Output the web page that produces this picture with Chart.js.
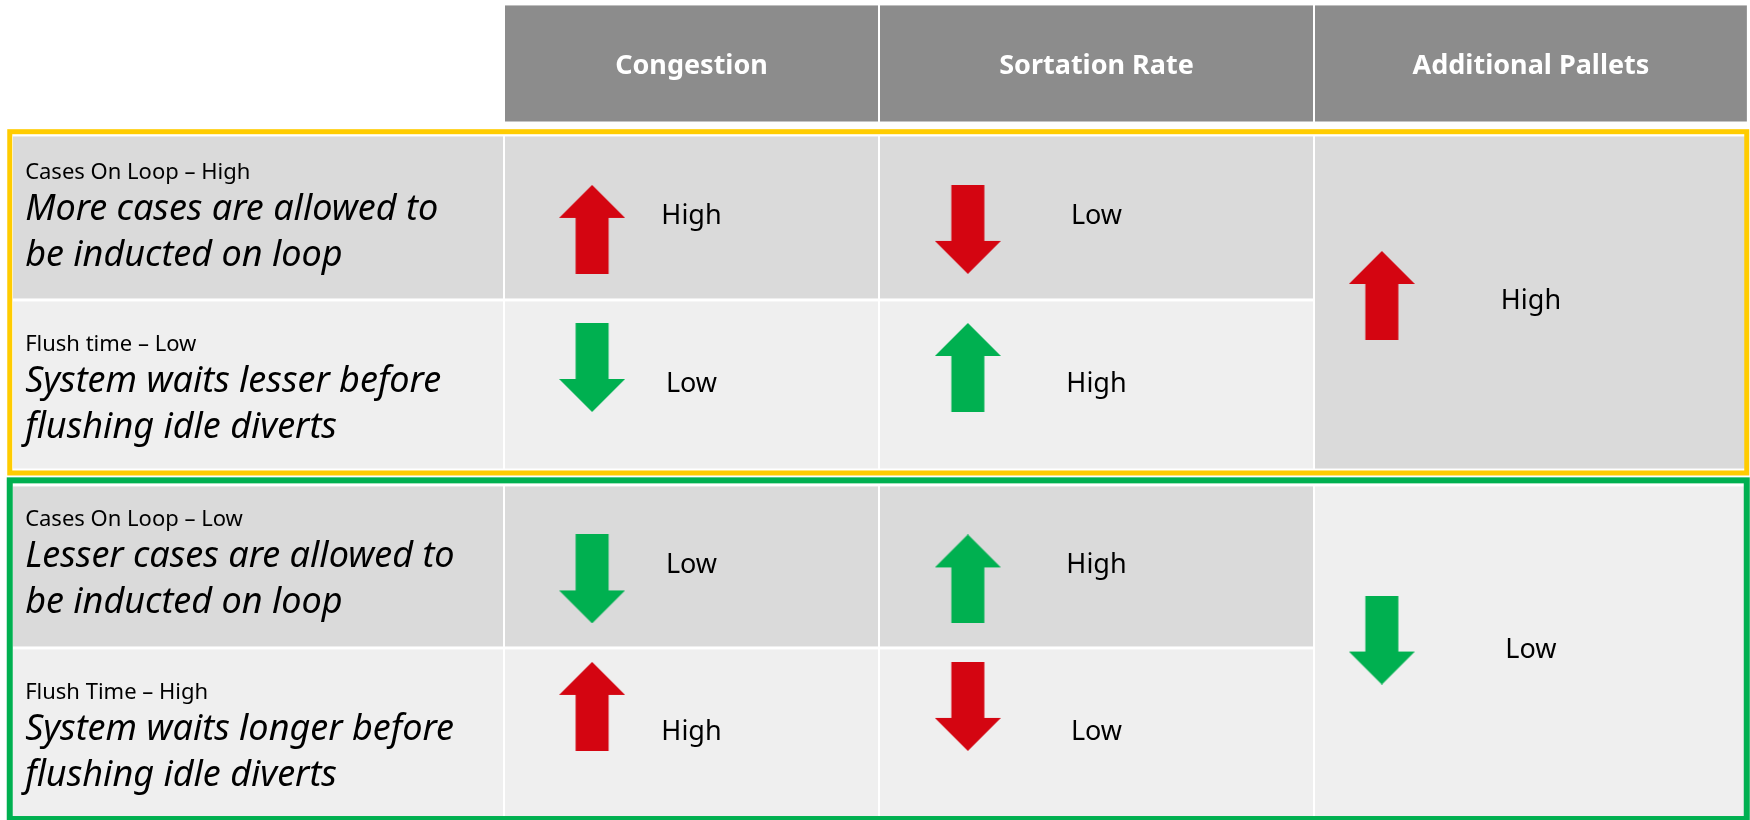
<!DOCTYPE html>
<html>
<head>
<meta charset="utf-8">
<script src="https://cdn.jsdelivr.net/npm/chart.js@4/dist/chart.umd.min.js"></script>
<style>
  html, body { margin: 0; background: #fff; }
  #wrap { width: 1750px; height: 820px; }
</style>
</head>
<body>
<div id="wrap"><canvas id="matrixChart"></canvas></div>
<script>
  // table content
  const columns = ['Congestion', 'Sortation Rate', 'Additional Pallets'];
  const settings = ['Cases On Loop – High', 'Flush time – Low', 'Cases On Loop – Low', 'Flush Time – High'];
  const descriptions = [
    ['More cases are allowed to', 'be inducted on loop'],
    ['System waits lesser before', 'flushing idle diverts'],
    ['Lesser cases are allowed to', 'be inducted on loop'],
    ['System waits longer before', 'flushing idle diverts'],
  ];
  const congestion = ['High', 'Low', 'Low', 'High'];
  const sortationRate = ['Low', 'High', 'High', 'Low'];
  const additionalPallets = ['High', 'Low']; // one per group (merged cells)
  const groupRows = [[0, 1], [2, 3]];
  const badWhen = ['High', 'Low', 'High']; // value that gets a red arrow, per column

  // layout in scale units (x: 375px, y: 164px)
  const colEdges = [0.032, 1.344, 2.344, 3.504, 4.661];
  const headerEdges = [0.024, 0.75];
  const rowEdges = [[0.823, 1.829], [1.829, 2.866], [2.957, 3.951], [3.951, 4.988]];
  const groupBoxes = [[0.803, 2.884], [2.929, 4.994]];
  const groupColors = ['#ffcc00', '#00b050'];
  const groupWidths = [5, 6];
  const arrowNudge = [0.073, -0.107, 0.076, -0.162];
  const groupNudge = [-0.043, -0.07];
  const arrowOffset = [0.235, 0.237, 0.181];
  const textNudge = [0, 4, -2, 4]; // px, description block per row

  const RED = '#d40511';
  const GREEN = '#00b050';
  const DARK = '#dadada';
  const LIGHT = '#efefef';
  const FONT = '"Noto Sans", "Open Sans", sans-serif';

  const makeArrow = (up, color) => {
    const c = document.createElement('canvas');
    c.width = 66;
    c.height = 89;
    const g = c.getContext('2d');
    g.fillStyle = color;
    g.beginPath();
    if (up) {
      g.moveTo(33, 0); g.lineTo(66, 33); g.lineTo(49.5, 33); g.lineTo(49.5, 89);
      g.lineTo(16.5, 89); g.lineTo(16.5, 33); g.lineTo(0, 33);
    } else {
      g.moveTo(33, 89); g.lineTo(66, 56); g.lineTo(49.5, 56); g.lineTo(49.5, 0);
      g.lineTo(16.5, 0); g.lineTo(16.5, 56); g.lineTo(0, 56);
    }
    g.closePath();
    g.fill();
    return c;
  };

  const rowMid = (r) => (rowEdges[r][0] + rowEdges[r][1]) / 2;
  const groupMid = (k) => (rowEdges[groupRows[k][0]][0] + rowEdges[groupRows[k][1]][1]) / 2;

  const arrowPoints = (values, col, mids, nudges) =>
    values.map((v, i) => ({
      x: colEdges[col + 1] + arrowOffset[col],
      y: mids(i) + nudges[i],
      value: v,
      style: makeArrow(v === 'High', v === badWhen[col] ? RED : GREEN),
    }));

  const tablePlugin = {
    id: 'table',
    beforeDatasetsDraw(chart) {
      const { ctx, scales: { x, y } } = chart;
      const px = (v) => x.getPixelForValue(v);
      const py = (v) => y.getPixelForValue(v);
      const cell = (c0, c1, r0, r1, color) => {
        ctx.fillStyle = color;
        ctx.fillRect(px(c0) + 1, py(r0) + 1.5, px(c1) - px(c0) - 2, py(r1) - py(r0) - 3);
      };
      ctx.save();
      // header
      for (let c = 1; c < colEdges.length - 1; c++) {
        cell(colEdges[c], colEdges[c + 1], headerEdges[0], headerEdges[1], '#8c8c8c');
      }
      // body rows
      rowEdges.forEach(([r0, r1], r) => {
        const color = r % 2 === 0 ? DARK : LIGHT;
        for (let c = 0; c < 3; c++) cell(colEdges[c], colEdges[c + 1], r0, r1, color);
      });
      groupRows.forEach((rows, k) => {
        cell(colEdges[3], colEdges[4], rowEdges[rows[0]][0], rowEdges[rows[1]][1], k === 0 ? DARK : LIGHT);
      });
      // group outlines
      groupBoxes.forEach(([r0, r1], k) => {
        ctx.strokeStyle = groupColors[k];
        ctx.lineWidth = groupWidths[k];
        ctx.strokeRect(px(0.026), py(r0), px(4.658) - px(0.026), py(r1) - py(r0));
      });
      ctx.restore();
    },
    afterDatasetsDraw(chart) {
      const { ctx, scales: { x, y } } = chart;
      const px = (v) => x.getPixelForValue(v);
      const py = (v) => y.getPixelForValue(v);
      ctx.save();
      // header titles
      ctx.fillStyle = '#fff';
      ctx.font = 'bold 27px ' + FONT;
      ctx.textAlign = 'center';
      ctx.textBaseline = 'middle';
      columns.forEach((name, c) => {
        ctx.fillText(name, (px(colEdges[c + 1]) + px(colEdges[c + 2])) / 2, (py(headerEdges[0]) + py(headerEdges[1])) / 2 + 3);
      });
      // row descriptions
      ctx.textAlign = 'left';
      ctx.textBaseline = 'alphabetic';
      ctx.fillStyle = '#000';
      settings.forEach((s, r) => {
        const base = py(rowMid(r)) - 38 + textNudge[r];
        ctx.font = '22px ' + FONT;
        ctx.fillText(s, px(0.067), base);
        ctx.font = 'italic 36px ' + FONT;
        descriptions[r].forEach((line, j) => ctx.fillText(line, px(0.067), base + 41 + j * 46));
      });
      // value labels
      ctx.font = '27px ' + FONT;
      ctx.textAlign = 'center';
      const colMid = (c) => (px(colEdges[c + 1]) + px(colEdges[c + 2])) / 2;
      congestion.forEach((v, r) => ctx.fillText(v, colMid(0), py(rowMid(r)) + 7));
      sortationRate.forEach((v, r) => ctx.fillText(v, colMid(1), py(rowMid(r)) + 7));
      additionalPallets.forEach((v, k) => ctx.fillText(v, colMid(2), py(groupMid(k)) + 7));
      ctx.restore();
    },
  };

  const arrowDataset = (label, data) => ({
    label,
    data,
    pointStyle: (c) => c.raw && c.raw.style,
    pointRadius: 10,
    showLine: false,
  });

  new Chart(document.getElementById('matrixChart'), {
    type: 'scatter',
    data: {
      datasets: [
        arrowDataset(columns[0], arrowPoints(congestion, 0, rowMid, arrowNudge)),
        arrowDataset(columns[1], arrowPoints(sortationRate, 1, rowMid, arrowNudge)),
        arrowDataset(columns[2], arrowPoints(additionalPallets, 2, groupMid, groupNudge)),
      ],
    },
    options: {
      responsive: true,
      maintainAspectRatio: false,
      animation: false,
      events: [],
      layout: { padding: 0, autoPadding: false },
      plugins: { legend: { display: false }, tooltip: { enabled: false } },
      scales: {
        x: { type: 'linear', display: false, min: 0, max: 1750 / 375 },
        y: { type: 'linear', display: false, reverse: true, min: 0, max: 5 },
      },
    },
    plugins: [tablePlugin],
  });
</script>
</body>
</html>
